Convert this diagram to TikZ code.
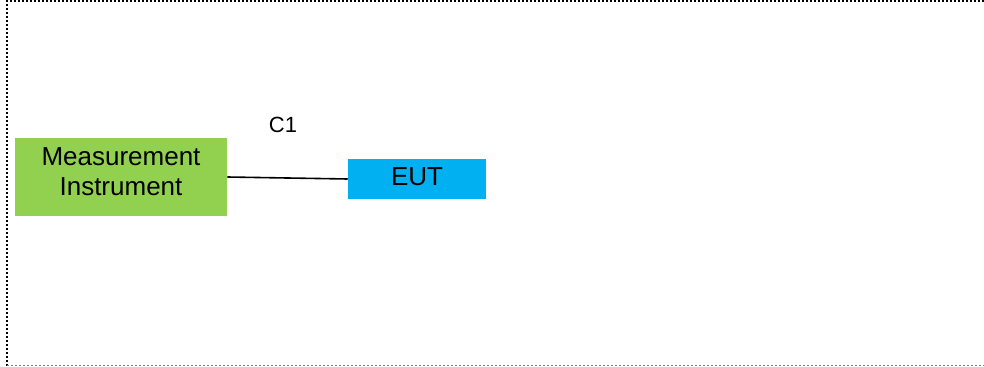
\documentclass[tikz,border=0pt]{standalone}
\usepackage{fontspec}
\setmainfont{Liberation Sans}
\definecolor{boxgreen}{HTML}{92D050}
\definecolor{boxblue}{HTML}{00B0F0}
\tikzset{
  devbox/.style={inner sep=0pt, font=\fontsize{19.5}{22.5}\selectfont},
  frameline/.style={line width=1pt, dash pattern=on 1.5pt off 1.5pt}
}

\begin{document}
\begin{tikzpicture}[x=0.75pt,y=-0.75pt]
    \useasboundingbox (0,0) rectangle (984,367);
    % frame
    \draw[frameline] (7,366) -- (7,1) -- (984,1);
    \draw[frameline,gray,line width=.8pt] (7,365.5) -- (984,365.5);
    % devices
    \node[devbox,fill=boxgreen,minimum width=159pt,minimum height=58.5pt] (meas) at (121,177)
      {\raisebox{1.5pt}[\height][\depth]{\begin{tabular}{@{}c@{}}Measurement\\Instrument\end{tabular}}};
    \node[devbox,fill=boxblue,minimum width=103.5pt,minimum height=30pt] (eut) at (417,179)
      {\raisebox{1.5pt}[\height][\depth]{EUT}};
    \draw[line width=1.2pt] (meas.east) -- (eut.west);
    \node[font=\fontsize{16.5}{20}\selectfont] (c1) at (283,125) {C1};
  \end{tikzpicture}
\end{document}
